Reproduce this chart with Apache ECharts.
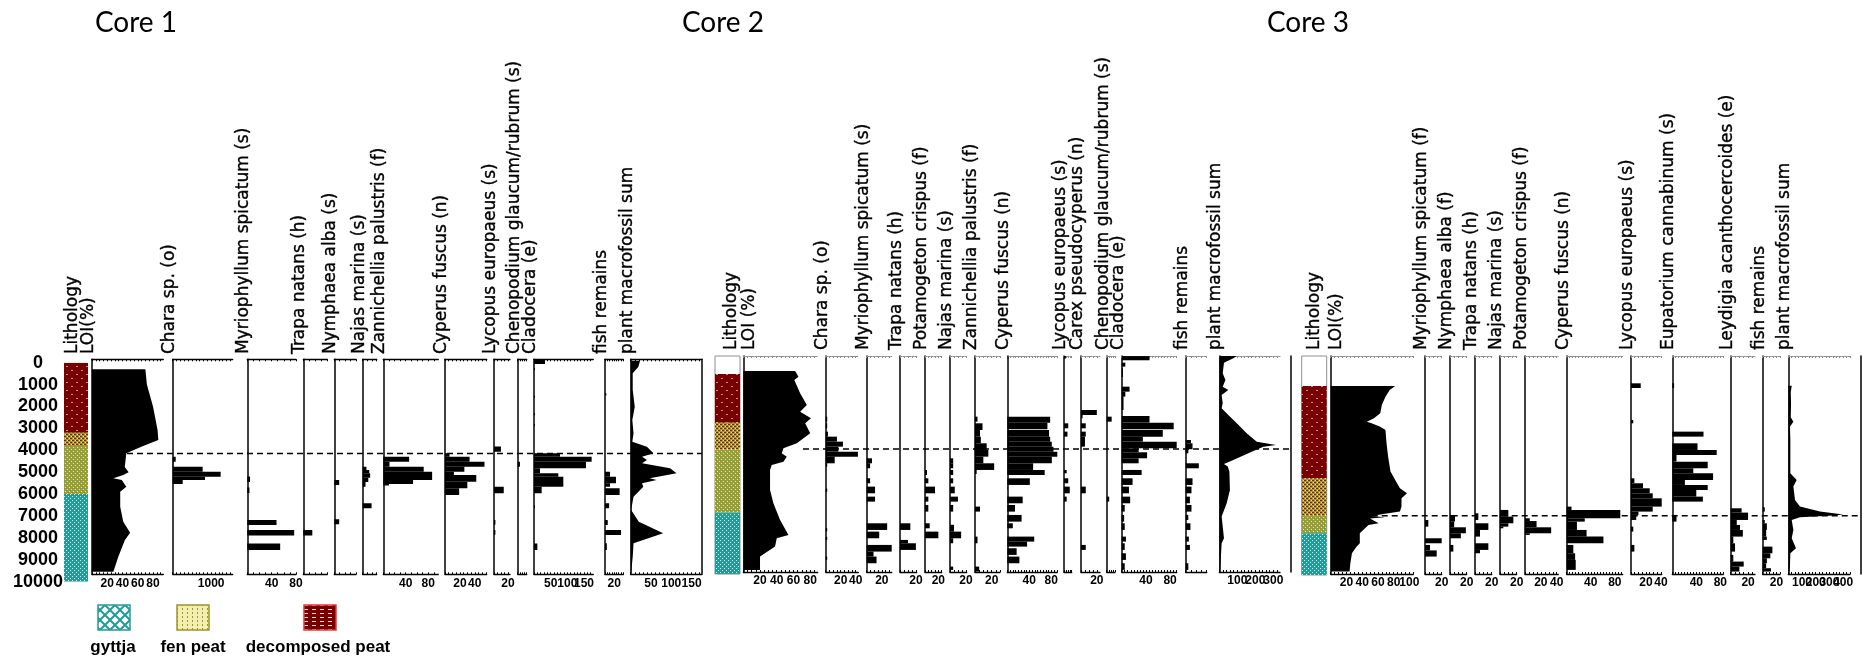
<!DOCTYPE html>
<html>
<head>
<meta charset="utf-8">
<script src="https://cdn.jsdelivr.net/npm/echarts@6/dist/echarts.min.js"></script>
<style>
html,body{margin:0;padding:0;background:#fff}
#chart{width:1862px;height:661px}
</style>
</head>
<body>
<div id="chart"></div>
<script>
// ---------- Core names and taxa ----------
const coreNames = ['Core 1', 'Core 2', 'Core 3'];
const core1Taxa = ['Lithology', 'LOI(%)', 'Chara sp. (o)', 'Myriophyllum spicatum (s)', 'Trapa natans (h)', 'Nymphaea alba (s)', 'Najas marina (s)', 'Zannichellia palustris (f)', 'Cyperus fuscus (n)', 'Lycopus europaeus (s)', 'Chenopodium glaucum/rubrum (s)', 'Cladocera (e)', 'fish remains', 'plant macrofossil sum'];
const core2Taxa = ['Lithology', 'LOI (%)', 'Chara sp. (o)', 'Myriophyllum spicatum (s)', 'Trapa natans (h)', 'Potamogeton crispus (f)', 'Najas marina (s)', 'Zannichellia palustris (f)', 'Cyperus fuscus (n)', 'Lycopus europaeus (s)', 'Carex pseudocyperus (n)', 'Chenopodium glaucum/rubrum (s)', 'Cladocera (e)', 'fish remains', 'plant macrofossil sum'];
const core3Taxa = ['Lithology', 'LOI(%)', 'Myriophyllum spicatum (f)', 'Nymphaea alba (f)', 'Trapa natans (h)', 'Najas marina (s)', 'Potamogeton crispus (f)', 'Cyperus fuscus (n)', 'Lycopus europaeus (s)', 'Eupatorium cannabinum (s)', 'Leydigia acanthocercoides (e)', 'fish remains', 'plant macrofossil sum'];
const lithologyKinds = ['gyttja', 'fen peat', 'decomposed peat'];

// ---------- Tick labels ----------
const ticksLOI = [20, 40, 60, 80];
const ticksLOI100 = [20, 40, 60, 80, 100];
const ticks1000 = [1000];
const ticks20 = [20];
const ticks20_40 = [20, 40];
const ticks40_80 = [40, 80];
const ticks50_150 = [50, 100, 150];
const ticks100_300 = [100, 200, 300];
const ticks100_400 = [100, 200, 300, 400];
const ticksNone = [];

// ---------- Lithology: [top, bottom, kind] ----------
const c1Lith = [[0, 3200, 'dec'], [3200, 3800, 'decfen'], [3800, 6000, 'fengyt'], [6000, 10000, 'gyt']];
const c2Lith = [[667, 2890, 'dec'], [2890, 4104, 'decfen'], [4104, 6998, 'fengyt'], [6998, 9797, 'gyt']];
const c3Lith = [[1214, 5428, 'dec'], [5428, 7103, 'decfen'], [7103, 7939, 'fengyt'], [7939, 9843, 'gyt']];

// ---------- Zone boundaries (depth) ----------
const boundaryDepths = [4150, 4090, 7140];

// ---------- Core 1: profiles [depth, value], bars [top, bottom, value] ----------
const c1LOI = [[300, 70], [1000, 72], [1250, 74], [2000, 80], [3070, 86], [3530, 87], [3800, 67], [4130, 45], [4760, 43], [5000, 48], [5130, 41], [5270, 28], [5360, 39], [5660, 45], [5890, 37], [6580, 37], [7260, 41], [7760, 50], [8100, 43], [8860, 34.5], [9540, 28]];
const c1Chara = [[4290, 4520, 78], [4520, 4750, 16], [4750, 4975, 779], [4975, 5205, 1247], [5205, 5360, 839], [5360, 5540, 260]];
const c1Myrio = [[5200, 5450, 4.5], [5700, 5950, 3.5], [7180, 7410, 48], [7640, 7890, 77], [8250, 8550, 54]];
const c1Trapa = [[7640, 7890, 15]];
const c1Nymph = [[5355, 5580, 9], [7150, 7380, 9]];
const c1Najas = [[4750, 4900, 8], [4900, 5050, 14], [5050, 5250, 16], [5250, 5450, 12], [5450, 5660, 6], [6420, 6650, 19]];
const c1Zann = [[4290, 4519, 46], [4519, 4747, 11], [4747, 4975, 72], [4975, 5355, 87], [5355, 5538, 53], [5538, 5610, 10]];
const c1Cyper = [[4138, 4290, 6], [4290, 4519, 33], [4519, 4747, 53], [4747, 4975, 26], [4975, 5127, 12], [5127, 5430, 42], [5430, 5735, 30], [5735, 6040, 19]];
const c1Lycop = [[3830, 4060, 10], [5660, 5960, 14], [7180, 7400, 2], [7640, 7860, 2]];
const c1Cheno = [[4519, 4747, 5]];
const c1Clado = [[-150, 60, 33], [240, 330, 3], [1500, 1600, 3], [2300, 2400, 3], [2800, 2900, 3], [4138, 4290, 78], [4290, 4519, 173], [4519, 4823, 156], [4823, 5051, 18], [5051, 5203, 73], [5203, 5659, 88], [5659, 5964, 23], [6500, 6650, 3], [8250, 8550, 10]];
const c1Fish = [[1400, 1500, 3], [4975, 5203, 11], [5203, 5507, 24], [5507, 5659, 11], [5735, 6040, 32], [6420, 6649, 9], [7182, 7410, 6], [7638, 7866, 35], [8247, 8551, 4]];
const c1Sum = [[-93, 23], [180, 19], [485, 5], [1246, 5], [2007, 10], [2616, 4], [3225, 7], [3605, 4], [3834, 40], [4138, 56], [4290, 28], [4443, 40], [4595, 28], [4823, 97], [5051, 113], [5279, 47], [5355, 64], [5507, 28], [5659, 31], [6116, 7], [6725, 1], [7258, 20], [7790, 80], [8247, 7], [8856, 5], [9617, 1]];

// ---------- Core 2 ----------
const c2LOI = [[530, 62], [789, 66], [941, 61], [1549, 68], [2082, 76], [2386, 68], [2690, 81], [2918, 74], [3374, 80], [3831, 64], [4059, 48], [4287, 46], [4439, 52], [4667, 48], [4819, 34], [5047, 32], [5960, 32], [6569, 36], [7330, 44], [8014, 54], [8166, 40], [8546, 38], [9002, 20], [9382, 20], [9610, 20]];
const c2Chara = [[2614, 2842, 2], [2918, 3146, 2], [3298, 3526, 3], [3526, 3755, 15], [3755, 3983, 23], [3983, 4211, 17], [4211, 4439, 43], [4439, 4743, 12], [4743, 4895, 2], [5900, 6050, 2], [7700, 7850, 2], [8100, 8250, 2], [9000, 9150, 2]];
const c2Myrio = [[4515, 4743, 7], [4743, 4971, 4.5], [5428, 5656, 4.5], [5808, 6113, 11], [6265, 6493, 11], [7482, 7786, 27], [7862, 8166, 16.5], [8470, 8774, 33], [8774, 9002, 9], [9002, 9306, 13]];
const c2Trapa = [[7482, 7786, 13], [8242, 8394, 10], [8394, 8698, 20]];
const c2Potam = [[5047, 5276, 3], [5428, 5656, 5], [5808, 6113, 15], [6265, 6493, 5], [6645, 6949, 5], [7482, 7710, 7], [7862, 8166, 20]];
const c2Najas = [[4515, 4743, 4], [4743, 4971, 4], [5047, 5276, 4], [5428, 5656, 4], [5808, 6113, 6], [6265, 6493, 10], [6645, 6949, 4], [7550, 7862, 5], [7862, 8166, 14], [8166, 8394, 4], [9458, 9610, 4]];
const c2Zann = [[2614, 2842, 3], [2918, 3222, 9], [3222, 3526, 6], [3526, 3831, 7], [3831, 4135, 14], [4135, 4439, 16], [4439, 4743, 10], [4743, 5047, 23], [5047, 5230, 2], [6721, 6949, 6], [8090, 8394, 3], [9458, 9686, 5]];
const c2Cyper = [[-150, -40, 2], [2614, 2888, 78], [2888, 3192, 73], [3222, 3526, 76], [3526, 3755, 78], [3755, 3983, 81], [3983, 4211, 84], [4211, 4439, 91], [4439, 4743, 81], [4743, 5047, 47], [5047, 5276, 68], [5428, 5732, 41], [5808, 5960, 1], [6265, 6569, 28], [6645, 6949, 14], [7101, 7406, 26], [7482, 7710, 10], [8090, 8318, 49], [8318, 8546, 36], [8622, 8926, 17], [9002, 9306, 22]];
const c2Lycop = [[-150, -40, 5], [2918, 3146, 11], [3298, 3526, 9], [5047, 5200, 7], [5428, 5656, 11], [5808, 6113, 15], [6265, 6493, 7]];
const c2Carex = [[2310, 2538, 20], [2538, 2690, 2], [2918, 3146, 6], [3298, 3526, 6], [3526, 3983, 5], [5808, 6113, 6], [8470, 8698, 6]];
const c2Cheno = [[2614, 2842, 12], [6265, 6493, 6]];
const c2Clado = [[-150, 40, 46], [149, 330, 6], [400, 800, 2], [1245, 1473, 13], [1473, 1701, 6], [1701, 2310, 3], [2584, 2888, 46], [2888, 3192, 86], [3222, 3526, 68], [3526, 3755, 35], [3755, 4059, 91], [4059, 4241, 28], [4241, 4515, 42], [4515, 4743, 28], [5047, 5276, 33], [5428, 5732, 18], [5808, 6113, 12], [6265, 6569, 14], [6645, 6949, 5], [7101, 7406, 4], [7482, 7786, 5], [8090, 8318, 7], [8394, 8698, 5], [8850, 9154, 7], [9306, 9610, 5]];
const c2Fish = [[3680, 3831, 10], [3831, 4100, 13], [4100, 4287, 5], [4743, 4971, 25], [5428, 5732, 13], [5808, 6113, 11], [6265, 6569, 8], [6645, 6949, 11], [7101, 7330, 5], [7482, 7786, 9], [8090, 8318, 6], [8470, 8698, 8], [9306, 9610, 5]];
const c2Sum = [[-150, 97], [-49, 78], [149, 26], [637, 19], [941, 34], [1245, 19], [1397, 50], [1625, 13], [2006, 19], [2234, 13], [2538, 50], [2918, 97], [3374, 152], [3755, 208], [3907, 315], [3983, 245], [4211, 180], [4591, 78], [4774, 26], [4895, 47], [5123, 56], [5960, 59], [6569, 41], [7177, 13], [8166, 26], [8394, 13], [9002, 9], [9610, 4]];

// ---------- Core 3 ----------
const c3LOI = [[1214, 82], [1397, 75], [1701, 69.6], [2082, 65], [2462, 63], [2690, 55], [2842, 46], [2918, 52], [3070, 63], [3222, 69.6], [3831, 71], [4439, 73], [5123, 76], [5504, 82], [5884, 88], [6113, 97], [6341, 90], [6721, 90], [6949, 88], [7055, 67], [7146, 52], [7207, 69], [7268, 50], [7482, 61], [7558, 48], [7938, 37], [8394, 37], [8546, 33], [8850, 27], [9306, 25], [9686, 24]];
const c3Myrio = [[7330, 7635, 4], [8166, 8394, 20], [8470, 8720, 6], [8720, 9002, 14]];
const c3Nymph = [[7101, 7406, 6], [7406, 7665, 5], [7665, 7938, 19], [7938, 8166, 13], [8470, 8774, 4]];
const c3Trapa = [[7025, 7330, 4], [7482, 7786, 16], [7786, 8090, 6], [8394, 8698, 16], [8698, 8850, 6]];
const c3Najas = [[6873, 7177, 10], [7177, 7482, 16], [7482, 7635, 10], [7635, 7710, 4]];
const c3Potam = [[7253, 7380, 6], [7380, 7665, 14.6], [7665, 7938, 33], [7938, 8014, 6]];
const c3Cyper = [[6721, 6873, 8], [6873, 7253, 89], [7253, 7406, 30], [7406, 7786, 17], [7786, 8090, 33], [8090, 8394, 61], [8470, 8850, 11], [8850, 9154, 14], [9154, 9610, 15]];
const c3Lycop = [[1092, 1305, 13], [2766, 2918, 3], [5428, 5656, 4.5], [5656, 5884, 16], [5884, 6113, 25], [6113, 6341, 29], [6341, 6721, 41], [6721, 6949, 29], [6949, 7101, 10], [7101, 7330, 7], [7635, 7862, 3], [8470, 8774, 4.5]];
const c3Eupat = [[1092, 1305, 3], [3298, 3526, 52], [3831, 4135, 42], [4135, 4363, 74], [4363, 4667, 7], [4667, 4971, 59], [4971, 5199, 35], [5199, 5504, 68], [5504, 5732, 21], [5732, 5960, 59], [5960, 6265, 40], [6265, 6493, 51], [7101, 7406, 7]];
const c3Leydi = [[6797, 6995, 12.6], [6995, 7330, 20], [7330, 7558, 7], [7558, 7786, 10.7], [7786, 8090, 14], [8090, 8394, 3], [8394, 8774, 5], [8926, 9230, 3], [9230, 9458, 15], [9458, 9686, 10]];
const c3Fish = [[6750, 6949, 3], [7330, 7482, 3], [7482, 7786, 6], [7786, 8090, 5], [8090, 8242, 6], [8546, 8850, 14], [8850, 9078, 11], [9078, 9306, 6], [9306, 9534, 5], [9534, 9686, 12]];
const c3Sum = [[1198, 25], [1500, 18], [2000, 20], [2643, 18], [2842, 37], [3070, 12], [3679, 15], [5199, 15], [5504, 61], [5808, 37], [6417, 49], [6721, 85], [6949, 231], [7086, 401], [7131, 329], [7207, 85], [7330, 25], [7786, 37], [8166, 25], [8622, 56], [8850, 15], [9458, 12], [9686, 7]];

// ---------- Layout ----------
const PX_PER_UNIT = 0.021905;   // vertical pixels per depth unit
const DEPTH_TOP = -155;          // depth at the top edge of every panel
const TICK_FONT = 'Liberation Sans';
const HEAD_FONT = '17px "DejaVu Sans", sans-serif';
const plainNumber = v => String(v);

function makeCanvas(w, h, draw) {
  const c = document.createElement('canvas');
  c.width = w; c.height = h;
  draw(c.getContext('2d'));
  return c;
}
const TEAL = '#1f9d99', OLIVE = '#a39d2c', DRED = '#760000';
const patterns = {
  gyt: makeCanvas(4, 4, g => { g.fillStyle = TEAL; g.fillRect(0, 0, 4, 4); g.fillStyle = '#e8f6f5'; g.fillRect(0, 0, 1, 1); g.fillRect(2, 2, 1, 1); }),
  dec: makeCanvas(10, 8, g => { g.fillStyle = DRED; g.fillRect(0, 0, 10, 8); g.fillStyle = '#c88c8c'; g.fillRect(1, 2, 2, 1); g.fillRect(6, 6, 2, 1); }),
  decfen: makeCanvas(4, 4, g => { g.fillStyle = OLIVE; g.fillRect(0, 0, 4, 4); g.fillStyle = '#8a1a08'; g.fillRect(0, 0, 2, 1); g.fillRect(2, 2, 2, 1); g.fillStyle = '#ece47a'; g.fillRect(3, 0, 1, 1); g.fillRect(1, 2, 1, 1); }),
  fengyt: makeCanvas(4, 4, g => { g.fillStyle = OLIVE; g.fillRect(0, 0, 4, 4); g.fillStyle = '#3aa59a'; g.fillRect(0, 0, 1, 1); g.fillRect(2, 2, 1, 1); g.fillStyle = '#f0ea90'; g.fillRect(1, 3, 1, 1); g.fillRect(3, 1, 1, 1); })
};
const legendPatterns = [
  makeCanvas(10, 10, g => { g.fillStyle = '#fff'; g.fillRect(0, 0, 10, 10); g.strokeStyle = TEAL; g.lineWidth = 2;
    g.beginPath(); g.moveTo(-1, -1); g.lineTo(11, 11); g.moveTo(11, -1); g.lineTo(-1, 11); g.stroke(); }),
  makeCanvas(5, 4, g => { g.fillStyle = '#f3efb2'; g.fillRect(0, 0, 5, 4); g.fillStyle = '#9c962a'; g.fillRect(2, 0, 1, 2); }),
  makeCanvas(8, 4, g => { g.fillStyle = DRED; g.fillRect(0, 0, 8, 4); g.fillStyle = '#f4dede'; g.fillRect(0, 1, 4, 1); })
];
const legendBorders = [TEAL, '#9c962a', '#e03a3a'];

const cores = [
  { top: 359.3, height: 215, labelBottom: 354, titleX: 136, topLine: { color: '#000', width: 1.3, type: 'solid' },
    lith: { x0: 64, x1: 88, top: 362.7, height: 219, yMin: 0, yMax: 10000, frame: false, depthAxis: true, data: c1Lith },
    headX: [78, 94], taxa: core1Taxa, boundary: { x0: 127, x1: 701.7, depth: boundaryDepths[0] },
    panels: [
      { x0: 92, x1: 163.3, max: 93.5, labels: ticksLOI, minor: 5, kind: 'area', data: c1LOI },
      { x0: 172.7, x1: 232.7, max: 1560, labels: ticks1000, minor: 100, kind: 'bar', data: c1Chara },
      { x0: 247.3, x1: 296, max: 80, labels: ticks40_80, minor: 10, kind: 'bar', data: c1Myrio },
      { x0: 303.3, x1: 327.3, max: 40, labels: ticksNone, minor: 10, kind: 'bar', data: c1Trapa },
      { x0: 334.3, x1: 356, max: 40, labels: ticksNone, minor: 10, kind: 'bar', data: c1Nymph },
      { x0: 362.7, x1: 376.7, max: 30, labels: ticksNone, minor: 10, kind: 'bar', data: c1Najas },
      { x0: 383.3, x1: 438.3, max: 98, labels: ticks40_80, minor: 10, kind: 'bar', data: c1Zann },
      { x0: 445, x1: 486.7, max: 56, labels: ticks20_40, minor: 5, kind: 'bar', data: c1Cyper },
      { x0: 494, x1: 510, max: 23, labels: ticks20, minor: 5, kind: 'bar', data: c1Lycop },
      { x0: 517.7, x1: 526.7, max: 20, labels: ticksNone, minor: 5, kind: 'bar', data: c1Cheno },
      { x0: 534, x1: 593.3, max: 178, labels: ticks50_150, minor: 10, kind: 'bar', data: c1Clado },
      { x0: 605, x1: 623.3, max: 40, labels: ticks20, minor: 5, kind: 'bar', data: c1Fish },
      { x0: 630.7, x1: 701.7, max: 175, labels: ticks50_150, minor: 10, kind: 'area', data: c1Sum }
    ] },
  { top: 356, height: 216, labelBottom: 350, titleX: 723, topLine: { color: '#8c8c8c', width: 1, type: [2, 1] },
    lith: { x0: 715, x1: 740, top: 356, height: 218, yMin: DEPTH_TOP, yMax: DEPTH_TOP + 218 / PX_PER_UNIT, frame: true, depthAxis: false, data: c2Lith },
    headX: [737, 755], taxa: core2Taxa, boundary: { x0: 803, x1: 1291, depth: boundaryDepths[1] },
    panels: [
      { x0: 743.3, x1: 817.7, max: 89, labels: ticksLOI, minor: 5, kind: 'area', data: c2LOI },
      { x0: 825.7, x1: 858.3, max: 43.5, labels: ticks20_40, minor: 5, kind: 'bar', data: c2Chara },
      { x0: 866.7, x1: 891.7, max: 33, labels: ticks20, minor: 5, kind: 'bar', data: c2Myrio },
      { x0: 900, x1: 916.7, max: 21, labels: ticks20, minor: 5, kind: 'bar', data: c2Trapa },
      { x0: 925, x1: 941.7, max: 25, labels: ticks20, minor: 5, kind: 'bar', data: c2Potam },
      { x0: 950, x1: 966.7, max: 21, labels: ticks20, minor: 5, kind: 'bar', data: c2Najas },
      { x0: 975, x1: 1000, max: 30, labels: ticks20, minor: 5, kind: 'bar', data: c2Zann },
      { x0: 1007.3, x1: 1057.3, max: 91, labels: ticks40_80, minor: 5, kind: 'bar', data: c2Cyper },
      { x0: 1064, x1: 1071.7, max: 20, labels: ticksNone, minor: 5, kind: 'bar', data: c2Lycop },
      { x0: 1081, x1: 1100, max: 24, labels: ticks20, minor: 5, kind: 'bar', data: c2Carex },
      { x0: 1106.7, x1: 1115, max: 20, labels: ticksNone, minor: 5, kind: 'bar', data: c2Cheno },
      { x0: 1121.7, x1: 1176.7, max: 91, labels: ticks40_80, minor: 5, kind: 'bar', data: c2Clado },
      { x0: 1185.7, x1: 1206.7, max: 40, labels: ticksNone, minor: 10, kind: 'bar', data: c2Fish },
      { x0: 1219.3, x1: 1280, max: 337, labels: ticks100_300, minor: 20, kind: 'area', data: c2Sum }
    ] },
  { top: 356, height: 218, labelBottom: 350, titleX: 1308, topLine: { color: '#8c8c8c', width: 1, type: [2, 1] },
    lith: { x0: 1301.7, x1: 1326.7, top: 356, height: 219, yMin: DEPTH_TOP, yMax: DEPTH_TOP + 219 / PX_PER_UNIT, frame: true, depthAxis: false, data: c3Lith },
    headX: [1320, 1342], taxa: core3Taxa, boundary: { x0: 1371.7, x1: 1861, depth: boundaryDepths[2] },
    panels: [
      { x0: 1330.7, x1: 1413.3, max: 105, labels: ticksLOI100, minor: 5, kind: 'area', data: c3LOI },
      { x0: 1425, x1: 1441.7, max: 20, labels: ticks20, minor: 5, kind: 'bar', data: c3Myrio },
      { x0: 1450, x1: 1466.7, max: 20, labels: ticks20, minor: 5, kind: 'bar', data: c3Nymph },
      { x0: 1475, x1: 1491.7, max: 20, labels: ticks20, minor: 5, kind: 'bar', data: c3Trapa },
      { x0: 1500, x1: 1516.7, max: 20, labels: ticks20, minor: 5, kind: 'bar', data: c3Najas },
      { x0: 1525, x1: 1558.3, max: 42, labels: ticks20_40, minor: 5, kind: 'bar', data: c3Potam },
      { x0: 1566.7, x1: 1622.7, max: 93, labels: ticks40_80, minor: 5, kind: 'bar', data: c3Cyper },
      { x0: 1631, x1: 1661.7, max: 41, labels: ticks20_40, minor: 5, kind: 'bar', data: c3Lycop },
      { x0: 1672.3, x1: 1723.3, max: 85, labels: ticks40_80, minor: 5, kind: 'bar', data: c3Eupat },
      { x0: 1730.7, x1: 1755, max: 28, labels: ticks20, minor: 5, kind: 'bar', data: c3Leydi },
      { x0: 1762.7, x1: 1780, max: 25, labels: ticks20, minor: 5, kind: 'bar', data: c3Fish },
      { x0: 1788.3, x1: 1850, max: 450, labels: ticks100_400, minor: 25, kind: 'area', data: c3Sum }
    ] }
];

// ---------- Option assembly ----------
const option = { animation: false, backgroundColor: '#fff', grid: [], xAxis: [], yAxis: [], series: [], graphic: [] };

function tickList(step, max) {
  const out = [];
  for (let i = 0; i * step <= max + 1e-9; i++) out.push(i * step);
  return out;
}

function hiddenX(gi) {
  return { gridIndex: gi, type: 'value', min: 0, max: 1, show: false };
}

function labelStyle(values) {
  return { show: values.length > 0, customValues: values, formatter: plainNumber, hideOverlap: false,
    margin: 3, color: '#000', fontFamily: TICK_FONT, fontWeight: 'bold', fontSize: 12 };
}

function addLithology(core) {
  const L = core.lith;
  const gi = option.grid.length;
  option.grid.push({ left: L.x0, top: L.top, width: L.x1 - L.x0, height: L.height, show: L.frame, borderColor: '#8f8f8f', borderWidth: 1, backgroundColor: 'transparent' });
  const xi = option.xAxis.length;
  option.xAxis.push(hiddenX(gi));
  const yi = option.yAxis.length;
  option.yAxis.push({
    gridIndex: gi, type: 'value', inverse: true, min: L.yMin, max: L.yMax, interval: 1000,
    show: L.depthAxis,
    axisLine: { show: false }, axisTick: { show: false }, splitLine: { show: false },
    axisLabel: { show: L.depthAxis, margin: 26, align: 'center', formatter: plainNumber, hideOverlap: false,
      color: '#000', fontFamily: TICK_FONT, fontWeight: 'bold', fontSize: 18 }
  });
  option.series.push({
    type: 'custom', xAxisIndex: xi, yAxisIndex: yi, silent: true, clip: true,
    data: L.data.map(d => [d[0], d[1]]), encode: { y: [0, 1] },
    renderItem: (params, api) => {
      const a = api.coord([0, api.value(0)]);
      const b = api.coord([1, api.value(1)]);
      return { type: 'rect', shape: { x: a[0], y: a[1], width: b[0] - a[0], height: b[1] - a[1] },
        style: { fill: { image: patterns[L.data[params.dataIndex][2]], repeat: 'repeat' } } };
    }
  });
}

function addPanel(core, p) {
  const gi = option.grid.length;
  const rect = { left: p.x0, top: core.top, width: p.x1 - p.x0, height: core.height };
  option.grid.push(Object.assign({}, rect));
  const yMax = DEPTH_TOP + core.height / PX_PER_UNIT;
  const ticks = tickList(p.minor, p.max);
  // neighbouring labels are crowded, so alternate ones go on a twin label-only axis
  const evenLabels = p.labels.filter((v, i) => i % 2 === 0);
  const oddLabels = p.labels.filter((v, i) => i % 2 === 1);
  const xi = option.xAxis.length;
  option.xAxis.push({
    gridIndex: gi, type: 'value', position: 'bottom', min: 0, max: p.max, splitLine: { show: false },
    axisLine: { show: true, onZero: false, lineStyle: { color: '#000', width: 1.3 } },
    axisTick: { show: true, inside: true, length: 2, customValues: ticks, lineStyle: { color: '#000', width: 1 } },
    axisLabel: labelStyle(evenLabels)
  });
  option.xAxis.push({
    gridIndex: gi, type: 'value', position: 'top', min: 0, max: p.max, splitLine: { show: false },
    axisLine: { show: true, onZero: false, lineStyle: core.topLine },
    axisTick: { show: true, inside: true, length: 2, customValues: ticks, lineStyle: { color: core.topLine.color, width: 1 } },
    axisLabel: { show: false }
  });
  const yi = option.yAxis.length;
  option.yAxis.push({
    gridIndex: gi, type: 'value', inverse: true, min: DEPTH_TOP, max: yMax,
    axisLine: { show: true, onZero: false, lineStyle: { color: '#000', width: 1.5 } },
    axisTick: { show: false }, axisLabel: { show: false }, splitLine: { show: false }
  });
  if (oddLabels.length) {
    const gj = option.grid.length;
    option.grid.push(Object.assign({}, rect));
    option.xAxis.push({
      gridIndex: gj, type: 'value', position: 'bottom', min: 0, max: p.max, splitLine: { show: false },
      axisLine: { show: false, onZero: false }, axisTick: { show: false }, axisLabel: labelStyle(oddLabels)
    });
    option.yAxis.push({ gridIndex: gj, type: 'value', inverse: true, min: DEPTH_TOP, max: yMax, show: false });
  }
  if (p.kind === 'bar') {
    option.series.push({
      type: 'custom', xAxisIndex: xi, yAxisIndex: yi, silent: true, clip: true,
      data: p.data, encode: { x: 2, y: [0, 1] },
      renderItem: (params, api) => {
        const a = api.coord([0, api.value(0)]);
        const b = api.coord([api.value(2), api.value(1)]);
        return { type: 'rect', shape: { x: a[0], y: a[1], width: b[0] - a[0], height: b[1] - a[1] }, style: { fill: '#000' } };
      }
    });
  } else {
    option.series.push({
      type: 'custom', xAxisIndex: xi, yAxisIndex: yi, silent: true, clip: true,
      data: p.data.map(d => [d[1], d[0]]), encode: { x: 0, y: 1 },
      renderItem: (params, api) => {
        if (params.dataIndex !== 0) return null;
        const first = p.data[0], last = p.data[p.data.length - 1];
        const pts = [api.coord([0, first[0]])];
        p.data.forEach(d => pts.push(api.coord([d[1], d[0]])));
        pts.push(api.coord([0, last[0]]));
        return { type: 'polygon', shape: { points: pts }, style: { fill: '#000' } };
      }
    });
  }
}

function addBoundary(core) {
  const B = core.boundary;
  const gi = option.grid.length;
  option.grid.push({ left: B.x0, top: core.top, width: B.x1 - B.x0, height: core.height });
  const xi = option.xAxis.length;
  option.xAxis.push(hiddenX(gi));
  const yi = option.yAxis.length;
  option.yAxis.push({
    gridIndex: gi, type: 'value', inverse: true, position: 'right', min: DEPTH_TOP, max: DEPTH_TOP + core.height / PX_PER_UNIT,
    axisLine: { show: true, onZero: false, lineStyle: { color: '#000', width: 1.5 } },
    axisTick: { show: false }, axisLabel: { show: false }, splitLine: { show: false }
  });
  option.series.push({
    type: 'line', xAxisIndex: xi, yAxisIndex: yi, silent: true, symbol: 'none', z: 5,
    data: [[0, B.depth], [1, B.depth]],
    lineStyle: { color: '#000', width: 1.5, type: [6, 4] }
  });
}

function addHeaders(core) {
  const texts = [];
  core.taxa.forEach((name, i) => {
    // Lithology and LOI have their own anchors; every other heading sits on its panel's left axis
    const baseline = i < 2 ? core.headX[i] : core.panels[i - 1].x0 + 1.5;
    texts.push({
      type: 'text', x: baseline - 5, y: core.labelBottom, rotation: Math.PI / 2, silent: true,
      style: { text: name, font: HEAD_FONT, fill: '#000', stroke: '#000', lineWidth: 0.35,
        align: 'left', verticalAlign: 'middle', textAlign: 'left', textVerticalAlign: 'middle' }
    });
  });
  return texts;
}

cores.forEach((core, ci) => {
  addLithology(core);
  core.panels.forEach(p => addPanel(core, p));
  addBoundary(core);
  option.graphic.push(...addHeaders(core));
  option.graphic.push({
    type: 'text', x: core.titleX, y: 23, silent: true,
    style: { text: coreNames[ci], font: '28px Lato, sans-serif', fill: '#000', align: 'center', verticalAlign: 'middle', textAlign: 'center', textVerticalAlign: 'middle' }
  });
});

// Lithology key below core 1
const legendBoxX = [98, 177, 304];
const legendTextX = [113, 193, 318];
lithologyKinds.forEach((name, i) => {
  option.graphic.push({
    type: 'rect', silent: true, shape: { x: legendBoxX[i], y: 605, width: 32, height: 25 },
    style: { fill: { image: legendPatterns[i], repeat: 'repeat' }, stroke: legendBorders[i], lineWidth: 1.5 }
  });
  option.graphic.push({
    type: 'text', silent: true, x: legendTextX[i], y: 647,
    style: { text: name, font: 'bold 17px "Liberation Sans", Arial, sans-serif', fill: '#000', align: 'center', verticalAlign: 'middle', textAlign: 'center', textVerticalAlign: 'middle' }
  });
});

const chart = echarts.init(document.getElementById('chart'), null, { renderer: 'canvas' });
chart.setOption(option);
</script>
</body>
</html>
